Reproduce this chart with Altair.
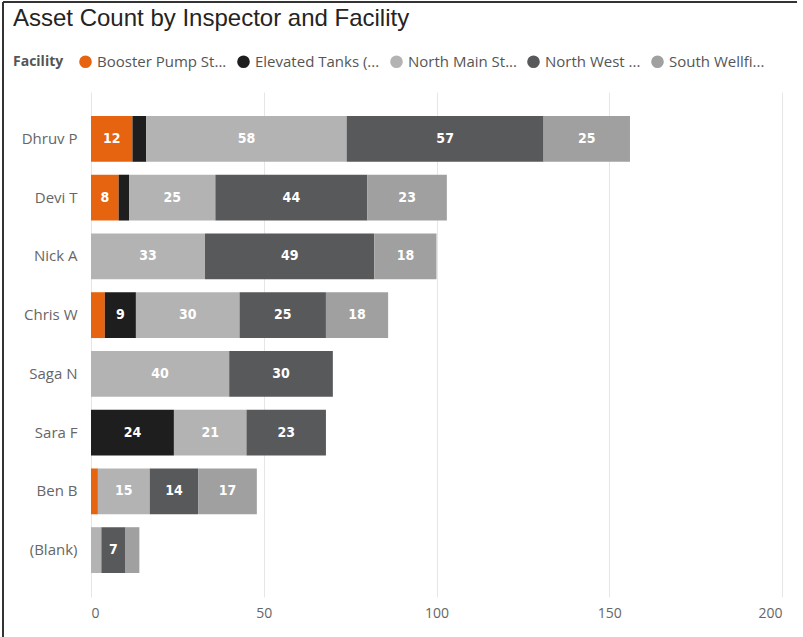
import altair as alt
import pandas as pd

inspectors = ["Dhruv P", "Devi T", "Nick A", "Chris W", "Saga N", "Sara F", "Ben B", "(Blank)"]
facilities = ["Booster Pump St...", "Elevated Tanks (...", "North Main St...", "North West ...", "South Wellfi..."]
colors = ["#E6640F", "#1E1E1E", "#B3B3B3", "#58595B", "#A0A0A0"]

booster = [12, 8, 0, 4, 0, 0, 2, 0]
elevated = [4, 3, 0, 9, 0, 24, 0, 0]
north_main = [58, 25, 33, 30, 40, 21, 15, 3]
north_west = [57, 44, 49, 25, 30, 23, 14, 7]
south = [25, 23, 18, 18, 0, 0, 17, 4]

series = [booster, elevated, north_main, north_west, south]
rows = []
for fi, (fac, vals) in enumerate(zip(facilities, series)):
    for ins, v in zip(inspectors, vals):
        if v > 0:
            rows.append({"Inspector": ins, "Facility": fac, "order": fi, "Count": v})
df = pd.DataFrame(rows)

FONT = "Open Sans"

y_enc = alt.Y("Inspector:N", sort=inspectors, title=None,
              scale=alt.Scale(paddingInner=0.22, paddingOuter=0.408),
              axis=alt.Axis(labelFontSize=15, labelColor="#666666", labelFont=FONT,
                            ticks=False, domain=False, labelPadding=14, grid=False))

bars = alt.Chart(df).mark_bar().encode(
    x=alt.X("Count:Q", stack="zero", title=None,
            scale=alt.Scale(domain=[0, 200], nice=False),
            axis=alt.Axis(values=[0, 50, 100, 150, 200], labelFontSize=14, labelColor="#666666",
                          labelFont=FONT, ticks=False, domain=False, labelPadding=9,
                          gridColor="#E6E6E6", gridWidth=1)),
    y=y_enc,
    color=alt.Color("Facility:N", sort=facilities,
                    scale=alt.Scale(domain=facilities, range=colors),
                    legend=alt.Legend(title="Facility", orient="none", direction="horizontal",
                                      legendX=-78, legendY=-38, titleOrient="left",
                                      titleFont=FONT, titleFontSize=14, titleFontWeight="bold",
                                      titleColor="#555555", labelFont=FONT, labelFontSize=15,
                                      labelColor="#555555", symbolType="circle", symbolSize=160,
                                      symbolStrokeWidth=0, columnPadding=9, labelOffset=4,
                                      titlePadding=14, labelLimit=300)),
    order=alt.Order("order:Q"),
)

labels = alt.Chart(df).transform_window(
    cum="sum(Count)", groupby=["Inspector"], sort=[alt.SortField("order")],
    frame=[None, 0]
).transform_calculate(
    mid="datum.cum - datum.Count / 2"
).transform_filter(
    "datum.Count >= 7"
).mark_text(font="DejaVu Sans Condensed", fontWeight="bold", fontSize=14, color="white").encode(
    x=alt.X("mid:Q"),
    y=alt.Y("Inspector:N", sort=inspectors),
    text=alt.Text("Count:Q"),
)

frame = alt.Chart(pd.DataFrame({"k": [0]})).mark_rule(color="#333333", strokeWidth=2).encode(
    x=alt.value(-88), y=alt.value(-90), y2=alt.value(545)
)
frame_top = alt.Chart(pd.DataFrame({"k": [0]})).mark_rule(color="#333333", strokeWidth=2).encode(
    x=alt.value(-88), x2=alt.value(706), y=alt.value(-90)
)

chart = alt.layer(bars, labels, frame, frame_top).properties(
    width=691, height=505,
    autosize=alt.AutoSizeParams(type="none"),
    padding={"left": 91, "top": 92, "right": 21, "bottom": 40},
    title=alt.Title("Asset Count by Inspector and Facility", anchor="start", frame="group",
                    font="Liberation Sans", fontSize=24, fontWeight="normal", color="#252423",
                    dx=-78, dy=54, offset=24),
).configure(background="white").configure_view(stroke=None)

chart.save("out.html", embed_options={"renderer": "svg", "actions": False})
